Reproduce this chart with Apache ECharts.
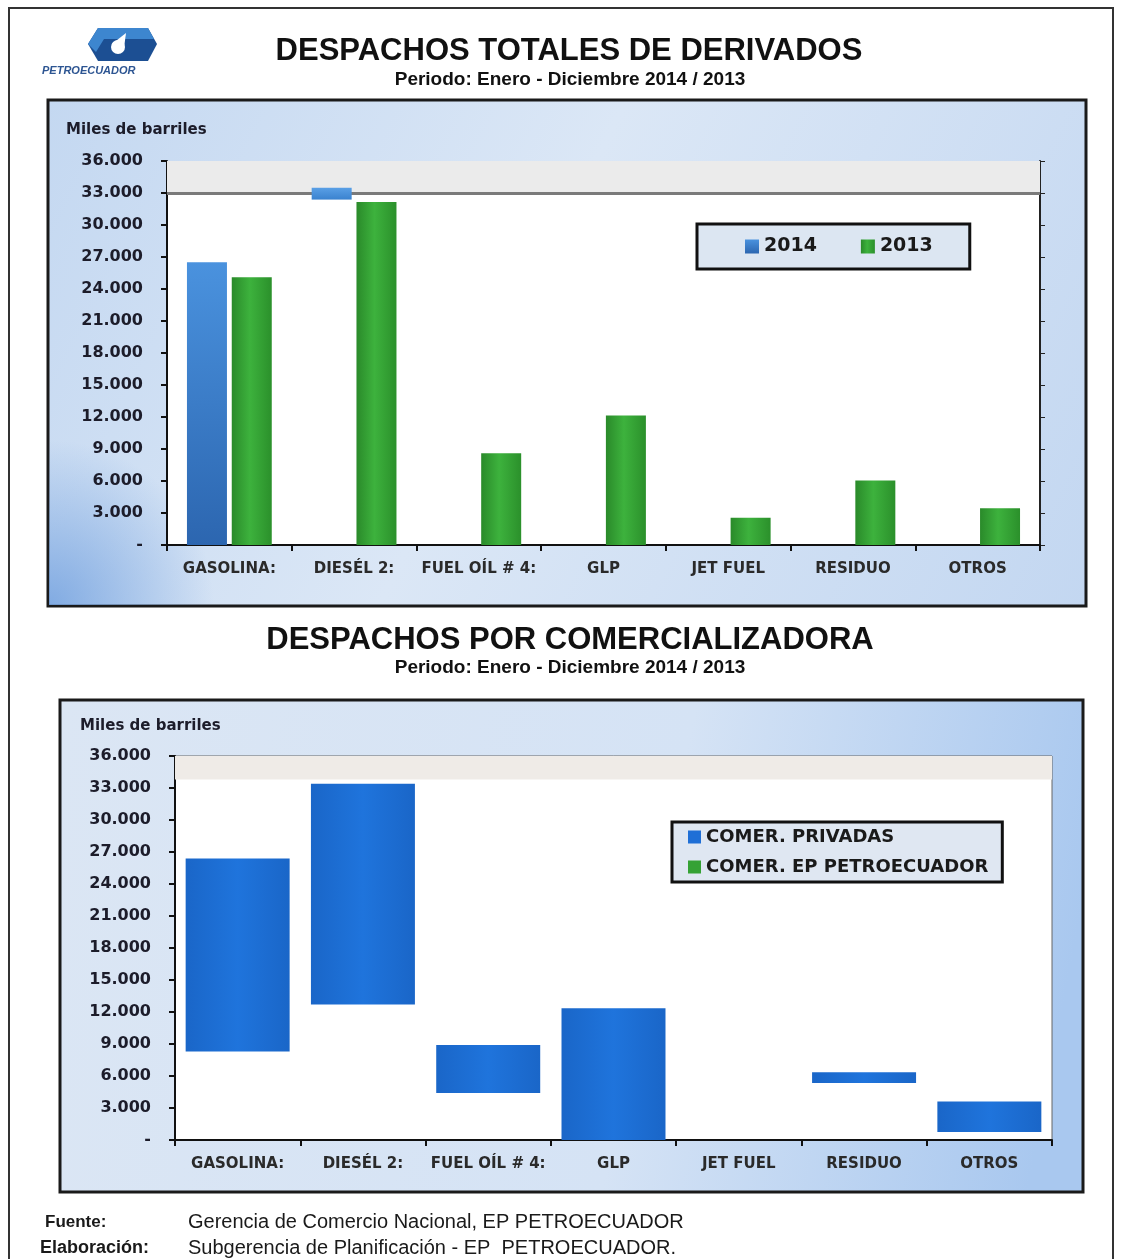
<!DOCTYPE html>
<html>
<head>
<meta charset="utf-8">
<script src="https://cdn.jsdelivr.net/npm/echarts@6/dist/echarts.min.js"></script>
<style>
  html, body { margin: 0; padding: 0; background: #ffffff; }
  #chart { width: 1122px; height: 1259px; }
</style>
</head>
<body>
<div id="chart"></div>
<script>
// Product categories (shared by both charts)
const categories = ['GASOLINA:', 'DIESÉL 2:', 'FUEL OÍL # 4:', 'GLP', 'JET FUEL', 'RESIDUO', 'OTROS'];

// Despachos totales de derivados (miles de barriles)
const totals2014 = [26500, 33500, null, null, null, null, null];
const totals2013 = [25100, 32150, 8600, 12150, 2550, 6050, 3450];

// Despachos por comercializadora, 2014 (miles de barriles)
const comerEP = [8300, 12700, 4400, 0, 0, 5350, 750];
const comerPrivadas = [18100, 20700, 4500, 12350, 0, 1000, 2850];

// Value axis ticks
const axisMax = 36000;
const axisStep = 3000;

const LABEL_FONT = 'DejaVu Sans';
const fmt = v => v === 0 ? '-' : String(v).replace(/\B(?=(\d{3})+(?!\d))/g, '.');

const chart = echarts.init(document.getElementById('chart'), null, { renderer: 'canvas' });

const green = {
  type: 'linear', x: 0, y: 0, x2: 1, y2: 0,
  colorStops: [
    { offset: 0, color: '#2a8a2a' },
    { offset: 0.45, color: '#3db23d' },
    { offset: 1, color: '#2b902b' }
  ]
};
const blueTop = {
  type: 'linear', x: 0, y: 0, x2: 0, y2: 1,
  colorStops: [
    { offset: 0, color: '#4a92de' },
    { offset: 1, color: '#2c66b0' }
  ]
};
// Diesel 2014 bar only shows its top band
const blueDieselBand = {
  type: 'linear', x: 0, y: 0, x2: 0, y2: 1,
  colorStops: [
    { offset: 0, color: '#5aa0e6' },
    { offset: 0.033, color: '#3a82cf' },
    { offset: 0.0335, color: 'rgba(255,255,255,0)' },
    { offset: 1, color: 'rgba(255,255,255,0)' }
  ]
};
const blueBottom = {
  type: 'linear', x: 0, y: 0, x2: 1, y2: 0,
  colorStops: [
    { offset: 0, color: '#1a66c8' },
    { offset: 0.5, color: '#1f74dc' },
    { offset: 1, color: '#1a66c8' }
  ]
};

function valueAxis(gridIndex) {
  return {
    type: 'value', gridIndex, min: 0, max: axisMax, interval: axisStep,
    axisLine: { show: true, lineStyle: { color: '#111', width: 2 } },
    axisTick: { show: true, length: 6, lineStyle: { color: '#111', width: 2 } },
    splitLine: { show: false },
    axisLabel: {
      formatter: fmt, margin: 24,
      fontFamily: LABEL_FONT, fontWeight: 'bold', fontSize: 16, color: '#1c1c2a'
    }
  };
}
function categoryAxis(gridIndex) {
  return {
    type: 'category', gridIndex, data: categories,
    axisLine: { show: true, lineStyle: { color: '#111', width: 2 } },
    axisTick: { show: true, alignWithLabel: false, length: 6, lineStyle: { color: '#111', width: 2 } },
    axisLabel: {
      interval: 0, margin: 17,
      fontFamily: LABEL_FONT, fontWeight: 'bold', fontSize: 15, color: '#2a2a2a'
    }
  };
}

const legendText = { fontFamily: LABEL_FONT, fontWeight: 'bold', color: '#1a1a1a' };

const option = {
  animation: false,
  backgroundColor: '#ffffff',
  graphic: [
    // page frame
    { type: 'rect', z: -20, shape: { x: 9, y: 8, width: 1104, height: 1300 },
      style: { fill: 'none', stroke: '#333', lineWidth: 2 } },
    // logo
    { type: 'polygon', z: 5, shape: { points: [[98, 28], [148, 28], [157, 44], [148, 61], [98, 61], [88, 44]] },
      style: { fill: '#1c4f93' } },
    { type: 'polygon', z: 6, shape: { points: [[98, 28], [148, 28], [154, 39], [104, 39], [96, 52], [88, 44]] },
      style: { fill: '#3d86cf' } },
    { type: 'circle', z: 7, shape: { cx: 118, cy: 47, r: 7 }, style: { fill: '#ffffff' } },
    { type: 'polygon', z: 7, shape: { points: [[112, 44], [126, 33], [124, 48]] }, style: { fill: '#ffffff' } },
    { type: 'text', z: 5, style: { x: 42, y: 71, text: 'PETROECUADOR', textVerticalAlign: 'middle',
      font: 'italic bold 11px "Liberation Sans"', fill: '#2d5592' } },
    // titles
    { type: 'text', style: { x: 569, y: 51, text: 'DESPACHOS TOTALES DE DERIVADOS', textAlign: 'center',
      textVerticalAlign: 'middle', font: 'bold 31px "Liberation Sans"', fill: '#111' } },
    { type: 'text', style: { x: 570, y: 80, text: 'Periodo: Enero - Diciembre 2014 / 2013', textAlign: 'center',
      textVerticalAlign: 'middle', font: 'bold 19px "Liberation Sans"', fill: '#111' } },
    { type: 'text', style: { x: 570, y: 640, text: 'DESPACHOS POR COMERCIALIZADORA', textAlign: 'center',
      textVerticalAlign: 'middle', font: 'bold 31px "Liberation Sans"', fill: '#111' } },
    { type: 'text', style: { x: 570, y: 668, text: 'Periodo: Enero - Diciembre 2014 / 2013', textAlign: 'center',
      textVerticalAlign: 'middle', font: 'bold 19px "Liberation Sans"', fill: '#111' } },
    // chart panels
    { type: 'rect', z: -10, shape: { x: 48, y: 100, width: 1038, height: 506 },
      style: {
        fill: { type: 'linear', x: 0, y: 0, x2: 1, y2: 1, colorStops: [
          { offset: 0, color: '#c4d8f1' }, { offset: 0.45, color: '#dbe7f6' }, { offset: 1, color: '#c3d7f1' }] },
        stroke: '#1a1a1a', lineWidth: 3 } },
    { type: 'rect', z: -9, shape: { x: 49, y: 440, width: 180, height: 165 },
      style: { fill: { type: 'radial', x: 0, y: 1, r: 1, colorStops: [
        { offset: 0, color: 'rgba(110,158,222,0.8)' }, { offset: 1, color: 'rgba(110,158,222,0)' }] } } },
    { type: 'rect', z: -10, shape: { x: 60, y: 700, width: 1023, height: 492 },
      style: {
        fill: { type: 'linear', x: 0, y: 0, x2: 1, y2: 0.4, colorStops: [
          { offset: 0, color: '#dbe6f4' }, { offset: 0.6, color: '#d5e3f5' }, { offset: 1, color: '#a9c8ef' }] },
        stroke: '#1a1a1a', lineWidth: 3 } },
    // axis captions
    { type: 'text', style: { x: 66, y: 130, text: 'Miles de barriles', textVerticalAlign: 'middle',
      font: 'bold 15px "DejaVu Sans"', fill: '#1c1c2a' } },
    { type: 'text', style: { x: 80, y: 726, text: 'Miles de barriles', textVerticalAlign: 'middle',
      font: 'bold 15px "DejaVu Sans"', fill: '#1c1c2a' } },
    // source notes
    { type: 'text', style: { x: 45, y: 1222, text: 'Fuente:', textVerticalAlign: 'middle',
      font: 'bold 17px "Liberation Sans"', fill: '#1a1a1a' } },
    { type: 'text', style: { x: 188, y: 1222, text: 'Gerencia de Comercio Nacional, EP PETROECUADOR', textVerticalAlign: 'middle',
      font: '20px "Liberation Sans"', fill: '#1a1a1a' } },
    { type: 'text', style: { x: 40, y: 1248, text: 'Elaboración:', textVerticalAlign: 'middle',
      font: 'bold 18px "Liberation Sans"', fill: '#1a1a1a' } },
    { type: 'text', style: { x: 188, y: 1248, text: 'Subgerencia de Planificación - EP  PETROECUADOR.', textVerticalAlign: 'middle',
      font: '20px "Liberation Sans"', fill: '#1a1a1a' } }
  ],
  grid: [
    { left: 167, right: 82, top: 161, height: 384, show: true, backgroundColor: '#ffffff', borderWidth: 0 },
    { left: 175, right: 70, top: 756, height: 384, show: true, backgroundColor: '#ffffff',
      borderColor: '#666', borderWidth: 1 }
  ],
  xAxis: [categoryAxis(0), categoryAxis(1)],
  yAxis: [
    valueAxis(0),
    valueAxis(1),
    {
      type: 'value', gridIndex: 0, position: 'right', min: 0, max: axisMax, interval: axisStep,
      axisLine: { show: true, lineStyle: { color: '#222', width: 2 } },
      axisTick: { show: true, length: 5, lineStyle: { color: '#222', width: 1 } },
      axisLabel: { show: false }, splitLine: { show: false }
    }
  ],
  legend: [
    {
      left: 697, top: 224, orient: 'horizontal',
      data: ['2014', '2013'],
      icon: 'rect', itemWidth: 14, itemHeight: 14, itemGap: 44,
      padding: [13, 37, 13, 48],
      backgroundColor: '#dce6f2', borderColor: '#111', borderWidth: 3,
      textStyle: Object.assign({ fontSize: 19 }, legendText)
    },
    {
      left: 672, top: 822, orient: 'vertical',
      data: [
        { name: 'COMER. PRIVADAS', itemStyle: { color: '#1f6fd6' } },
        { name: 'COMER. EP PETROECUADOR', itemStyle: { color: '#35a235' } }
      ],
      icon: 'rect', itemWidth: 13, itemHeight: 13, itemGap: 12,
      padding: [6, 14, 6, 16],
      backgroundColor: '#dfe7f2', borderColor: '#111', borderWidth: 3,
      textStyle: Object.assign({ fontSize: 18 }, legendText)
    }
  ],
  series: [
    {
      name: '2014', type: 'bar', xAxisIndex: 0, yAxisIndex: 0, z: 3,
      data: totals2014.map((v, i) => i === 1 ? { value: v, itemStyle: { color: blueDieselBand } } : v),
      barWidth: 40, barGap: '12%',
      itemStyle: { color: blueTop }
    },
    {
      name: '2013', type: 'bar', xAxisIndex: 0, yAxisIndex: 0, z: 3,
      data: totals2013, barWidth: 40, barGap: '12%',
      itemStyle: { color: green },
      markArea: {
        silent: true, z: 1, itemStyle: { color: '#ebebeb' },
        data: [[{ yAxis: 33000 }, { yAxis: axisMax }]]
      },
      markLine: {
        silent: true, z: 1, symbol: 'none', label: { show: false },
        lineStyle: { color: '#7a7a7a', width: 3, type: 'solid' },
        data: [{ yAxis: 33000 }]
      }
    },
    {
      name: 'COMER. EP PETROECUADOR', type: 'bar', stack: 'comer', xAxisIndex: 1, yAxisIndex: 1,
      data: comerEP, barWidth: '83%',
      itemStyle: { color: 'rgba(255,255,255,0)' },
      markArea: {
        silent: true, z: 1, itemStyle: { color: '#efebe7' },
        data: [[{ yAxis: 33800 }, { yAxis: axisMax }]]
      }
    },
    {
      name: 'COMER. PRIVADAS', type: 'bar', stack: 'comer', xAxisIndex: 1, yAxisIndex: 1,
      data: comerPrivadas, barWidth: '83%',
      itemStyle: { color: blueBottom }
    }
  ]
};

chart.setOption(option);
</script>
</body>
</html>
